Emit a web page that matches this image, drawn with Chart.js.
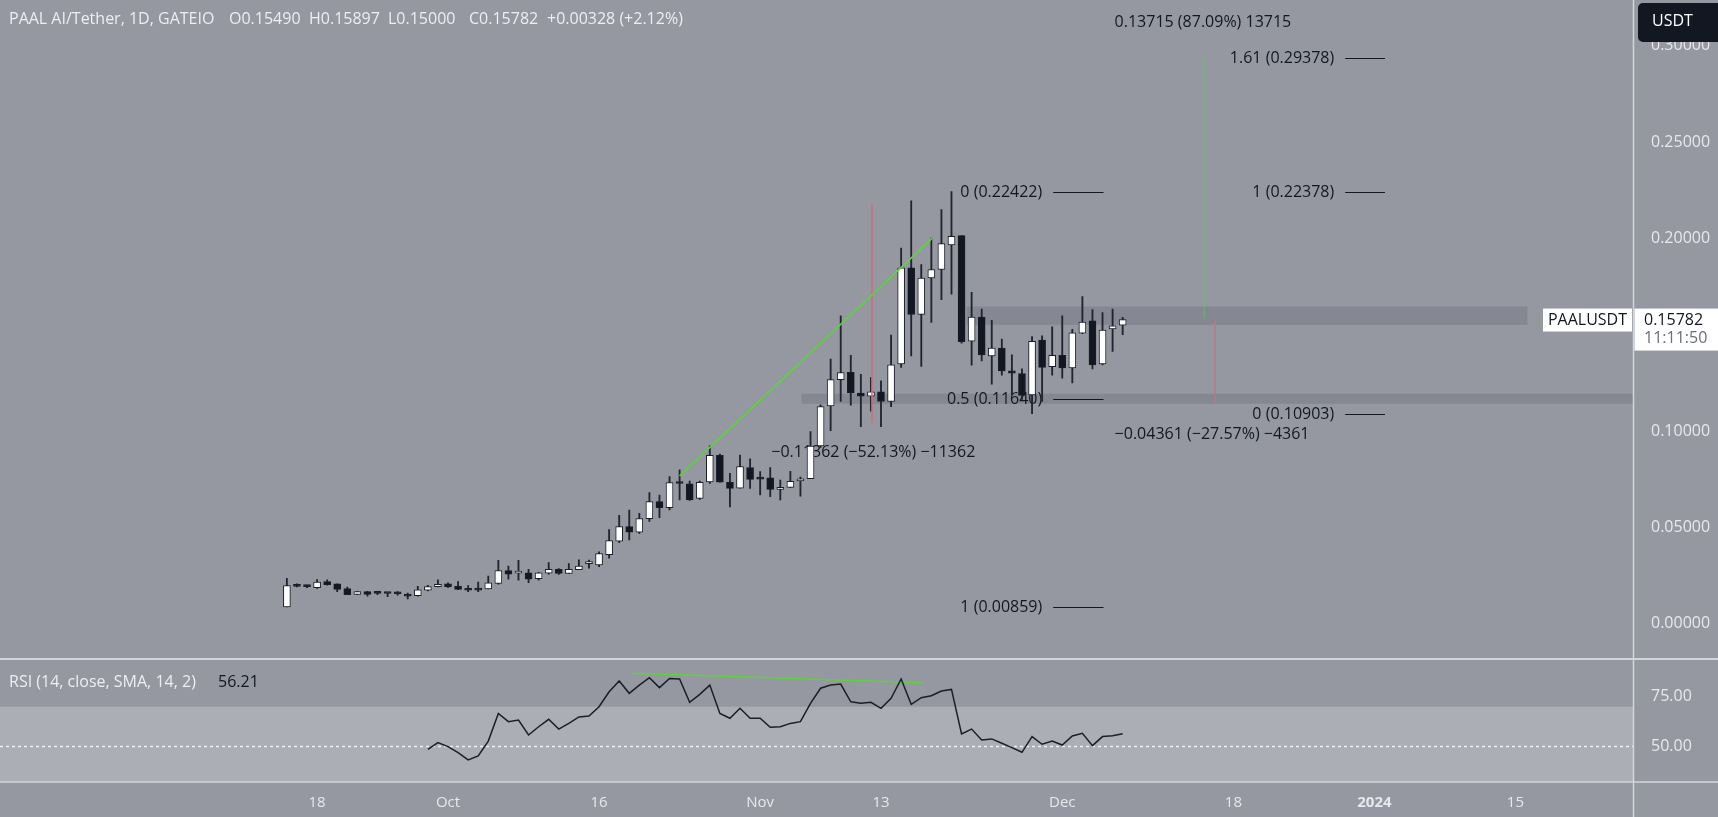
<!DOCTYPE html>
<html>
<head>
<meta charset="utf-8">
<title>PAAL AI/Tether, 1D</title>
<script src="https://cdn.jsdelivr.net/npm/chart.js@4.4.1/dist/chart.umd.min.js"></script>
<style>
  html, body { margin: 0; padding: 0; background: #9598a1; overflow: hidden; }
  canvas { display: block; }
</style>
</head>
<body>
<canvas id="grafico" width="1718" height="817"></canvas>
<script>
// Velas diarias PAAL/USDT (15 sep 2023 -> 7 dic 2023)
const firstCandle = '2023-09-15';
const opens = [
  0.0086, 0.0201, 0.0193, 0.0187, 0.0218, 0.0206, 0.0182, 0.0151, 0.0166, 0.0160, 0.0157, 0.0160, 0.0152, 0.0145, 0.0173, 0.0192,
  0.0206, 0.0194, 0.0180, 0.0180, 0.0180, 0.0209, 0.0275, 0.0262, 0.0264, 0.0233, 0.0262, 0.0282, 0.0260, 0.0280, 0.0311, 0.0305,
  0.0358, 0.0428, 0.0503, 0.0474, 0.0545, 0.0633, 0.0602, 0.0733, 0.0725, 0.0650, 0.0735, 0.0874, 0.0733, 0.0703, 0.0810,
  0.0755, 0.0756, 0.0697, 0.0707, 0.0740, 0.0752, 0.0922, 0.1130, 0.1266, 0.1304, 0.1197, 0.1180, 0.1203, 0.1153, 0.1348,
  0.1847, 0.1605, 0.1794, 0.1838, 0.1965, 0.2014, 0.1466, 0.1591, 0.1390, 0.1430, 0.1312, 0.1298, 0.1187, 0.1472, 0.1334,
  0.1393, 0.1327, 0.1508, 0.1572, 0.1348, 0.1530, 0.15490
];
const highs = [
  0.0235, 0.0206, 0.0200, 0.0229, 0.0227, 0.0206, 0.0190, 0.0168, 0.0168, 0.0163, 0.0160, 0.0166, 0.0159, 0.0193, 0.0199, 0.0227,
  0.0211, 0.0218, 0.0197, 0.0215, 0.0246, 0.0329, 0.0299, 0.0329, 0.0282, 0.0266, 0.0317, 0.0285, 0.0311, 0.0331, 0.0330, 0.0373,
  0.0488, 0.0562, 0.0589, 0.0573, 0.0680, 0.0667, 0.0763, 0.0798, 0.0740, 0.0740, 0.0923, 0.0880, 0.0780, 0.0875, 0.0855,
  0.0789, 0.0810, 0.0745, 0.0790, 0.0760, 0.0997, 0.1135, 0.1373, 0.1598, 0.1392, 0.1294, 0.1277, 0.1260, 0.1497, 0.1949,
  0.2195, 0.1863, 0.2001, 0.2149, 0.22422, 0.2014, 0.1719, 0.1633, 0.1574, 0.1477, 0.1395, 0.1322, 0.1490, 0.1494, 0.1540,
  0.1598, 0.1527, 0.1698, 0.1630, 0.1615, 0.1633, 0.15897
];
const lows = [
  0.00859, 0.0190, 0.0186, 0.0182, 0.0199, 0.0166, 0.0150, 0.0150, 0.0142, 0.0150, 0.0140, 0.0147, 0.0128, 0.0142, 0.0170, 0.0190,
  0.0188, 0.0176, 0.0166, 0.0166, 0.0180, 0.0204, 0.0230, 0.0225, 0.0213, 0.0225, 0.0257, 0.0255, 0.0260, 0.0280, 0.0288, 0.0295,
  0.0340, 0.0420, 0.0434, 0.0468, 0.0530, 0.0550, 0.0590, 0.0642, 0.0640, 0.0645, 0.0728, 0.0734, 0.0606, 0.0703, 0.0702,
  0.0668, 0.0659, 0.0642, 0.0707, 0.0662, 0.0752, 0.0915, 0.1002, 0.1153, 0.1134, 0.1022, 0.1103, 0.1022, 0.1126, 0.1330,
  0.1390, 0.1335, 0.1563, 0.1681, 0.1710, 0.1455, 0.1342, 0.1364, 0.1243, 0.1290, 0.1188, 0.1164, 0.10903, 0.1153, 0.1290,
  0.1274, 0.1249, 0.1505, 0.1322, 0.1343, 0.1413, 0.15000
];
const closes = [
  0.0197, 0.0193, 0.0192, 0.0216, 0.0202, 0.0178, 0.0150, 0.0166, 0.0151, 0.0157, 0.0156, 0.0155, 0.0142, 0.0175, 0.0192, 0.0204,
  0.0190, 0.0178, 0.0173, 0.0174, 0.0211, 0.0275, 0.0256, 0.0266, 0.0230, 0.0264, 0.0282, 0.0260, 0.0282, 0.0299, 0.0313, 0.0363,
  0.0431, 0.0503, 0.0474, 0.0545, 0.0633, 0.0602, 0.0732, 0.0727, 0.0642, 0.0733, 0.0874, 0.0734, 0.0702, 0.0815, 0.0749,
  0.0750, 0.0697, 0.0707, 0.0738, 0.0752, 0.0922, 0.1127, 0.1266, 0.1303, 0.1197, 0.1180, 0.1203, 0.1153, 0.1343, 0.1847,
  0.1605, 0.1794, 0.1838, 0.1972, 0.2010, 0.1463, 0.1591, 0.1395, 0.1430, 0.1312, 0.1300, 0.1184, 0.1465, 0.1330, 0.1393,
  0.1327, 0.1509, 0.1565, 0.1343, 0.1523, 0.15454, 0.15782
];

// RSI (14) desde el 29 sep
const rsiFirst = '2023-09-29';
const rsiValues = [
  48.3, 51.7,
  49.7, 46.6, 42.9, 45.0, 52.5, 66.6, 62.4, 63.2, 55.6, 59.8, 63.6, 58.6, 61.5, 64.8, 65.3, 70.0,
  77.6, 83.1, 76.8, 81.0, 84.8, 79.7, 84.4, 84.1, 72.2, 76.3, 81.0, 66.6, 64.1, 69.2, 64.1,
  64.1, 59.5, 59.8, 61.5, 62.4, 71.7, 79.4, 81.0, 81.5, 72.5, 71.7, 72.2, 69.2, 74.3, 84.1,
  71.2, 74.6, 75.6, 78.0, 78.8, 56.1, 58.6, 53.1, 53.6, 51.4, 49.2, 46.8, 54.8, 50.9, 52.5,
  50.5, 55.1, 56.5, 50.2, 54.8, 55.2, 56.21
];

// Ejes
const xTickDates = ['2023-09-18', '2023-10-01', '2023-10-16', '2023-11-01', '2023-11-13', '2023-12-01', '2023-12-18', '2024-01-01', '2024-01-15'];
const xTickLabels = ['18', 'Oct', '16', 'Nov', '13', 'Dec', '18', '2024', '15'];
const priceTicks = [0, 0.05, 0.10, 0.20, 0.25, 0.30];
const rsiTicks = [50, 75];

// Dibujos (días desde el 1 oct, precio)
const trendPriceDays = [23.0, 48.1];
const trendPriceValues = [0.0767, 0.2001];
const trendRsiDays = [18.3, 47.1];
const trendRsiValues = [87.0, 82.2];
const zoneStart = [51.5, 35.1];
const zoneEnd = [107.2, 117.7];
const zoneLow = [0.1551, 0.1141];
const zoneHigh = [0.1646, 0.1193];
const measureDays = [42.1, 76.2, 75.1];
const measureFrom = [0.2180, 0.1582, 0.1581];
const measureTo = [0.1043, 0.1146, 0.2953];
const fibLeftLabels = ['0', '0.5', '1'];
const fibLeftValues = [0.22422, 0.11640, 0.00859];
const fibRightLabels = ['1.61', '1', '0'];
const fibRightValues = [0.29378, 0.22378, 0.10903];
const rangeTexts = ['\u22120.11362 (\u221252.13%) \u221211362', '\u22120.04361 (\u221227.57%) \u22124361', '0.13715 (87.09%) 13715'];
const rangeDays = [32.1, 66.2, 66.2];
const rangeValues = [0.0889, 0.0980, 0.3118];

const dia = s => (Date.parse(s + 'T00:00:00Z') - Date.UTC(2023, 9, 1)) / 86400000;
const d0 = dia(firstCandle);
const r0 = dia(rsiFirst);

const cuerpos = opens.map((o, i) => ({ x: d0 + i, y: [o, closes[i]] }));
const mechas = lows.map((l, i) => ({ x: d0 + i, y: [l, highs[i]] }));
const coloresCuerpo = opens.map((o, i) => closes[i] >= o ? '#ffffff' : '#131722');
const rsiPuntos = rsiValues.map((v, i) => ({ x: r0 + i, y: v }));

const FONT = '"Open Sans", sans-serif';
Chart.defaults.font.family = FONT;

const BG = '#9598a1';
const TEXT_LIGHT = '#eceef2';
const TEXT_DARK = '#131722';

// sin relleno extra de Chart.js alrededor de las escalas
const sinRelleno = (s) => { s.paddingTop = 0; s.paddingBottom = 0; s.paddingLeft = 0; s.paddingRight = 0; };

const panel = {
  id: 'panel',
  beforeDraw(chart) {
    const { ctx, width, height } = chart;
    const { x, yr } = chart.scales;
    ctx.save();
    ctx.fillStyle = BG;
    ctx.fillRect(0, 0, width, height);
    // banda 70-30 del RSI
    const top = yr.getPixelForValue(70);
    ctx.fillStyle = '#acaeb6';
    ctx.fillRect(x.left, top, x.right - x.left, yr.bottom - top);
    ctx.restore();
  },
  beforeDatasetsDraw(chart) {
    const { ctx } = chart;
    const { x, y, yr } = chart.scales;
    ctx.save();
    // zonas grises
    ctx.fillStyle = '#858892';
    zoneStart.forEach((s, i) => {
      const x1 = x.getPixelForValue(s), x2 = x.getPixelForValue(zoneEnd[i]);
      const y1 = y.getPixelForValue(zoneHigh[i]), y2 = y.getPixelForValue(zoneLow[i]);
      ctx.fillRect(x1, y1, x2 - x1, y2 - y1);
    });
    // linea 50 del RSI
    ctx.strokeStyle = '#eef0f4';
    ctx.lineWidth = 1.5;
    ctx.setLineDash([3, 3]);
    const y50 = Math.round(yr.getPixelForValue(50)) + 0.5;
    ctx.beginPath();
    ctx.moveTo(x.left, y50);
    ctx.lineTo(x.right, y50);
    ctx.stroke();
    ctx.setLineDash([]);

    // niveles fibonacci
    ctx.font = '16px ' + FONT;
    ctx.fillStyle = TEXT_DARK;
    ctx.strokeStyle = TEXT_DARK;
    ctx.lineWidth = 1;
    ctx.textBaseline = 'middle';
    ctx.textAlign = 'right';
    const fib = (labels, values, dFrom, dTo) => {
      const a = x.getPixelForValue(dFrom), b = x.getPixelForValue(dTo);
      labels.forEach((l, i) => {
        const py = Math.round(y.getPixelForValue(values[i])) + 0.5;
        ctx.fillText(l + ' (' + values[i].toFixed(5) + ')', a - 11, py);
        ctx.beginPath();
        ctx.moveTo(a, py);
        ctx.lineTo(b, py);
        ctx.stroke();
      });
    };
    fib(fibLeftLabels, fibLeftValues, 60.1, 65.1);
    fib(fibRightLabels, fibRightValues, 89.1, 93.05);

    // etiquetas de rango de precio
    ctx.textAlign = 'left';
    rangeTexts.forEach((t, i) => {
      ctx.fillText(t, x.getPixelForValue(rangeDays[i]), y.getPixelForValue(rangeValues[i]));
    });
    ctx.restore();
  },
  afterDraw(chart) {
    const { ctx, width, height } = chart;
    const { x, y, yr } = chart.scales;
    ctx.save();
    // separadores
    ctx.strokeStyle = '#d3d5dc';
    ctx.lineWidth = 2;
    ctx.beginPath();
    ctx.moveTo(0, Math.round(y.bottom));
    ctx.lineTo(width, Math.round(y.bottom));
    ctx.stroke();
    ctx.lineWidth = 1.5;
    ctx.beginPath();
    ctx.moveTo(0, Math.round(yr.bottom));
    ctx.lineTo(width, Math.round(yr.bottom));
    ctx.moveTo(Math.round(x.right) + 0.5, 0);
    ctx.lineTo(Math.round(x.right) + 0.5, height);
    ctx.stroke();

    // leyenda superior
    const n = closes.length - 1;
    const cambio = closes[n] - closes[n - 1];
    ctx.font = '16px ' + FONT;
    ctx.textBaseline = 'middle';
    ctx.textAlign = 'left';
    ctx.fillStyle = TEXT_LIGHT;
    const piezas = [
      ['PAAL AI/Tether, 1D, GATEIO', 9],
      ['O' + opens[n].toFixed(5), 229],
      ['H' + highs[n].toFixed(5), 309],
      ['L' + lows[n].toFixed(5), 388],
      ['C' + closes[n].toFixed(5), 469],
      ['+' + cambio.toFixed(5) + ' (+' + (cambio / closes[n - 1] * 100).toFixed(2) + '%)', 547]
    ];
    piezas.forEach(p => ctx.fillText(p[0], p[1], 19));

    // leyenda RSI
    const rsiTop = yr.top;
    ctx.fillText('RSI (14, close, SMA, 14, 2)', 9, rsiTop + 24);
    ctx.fillStyle = TEXT_DARK;
    ctx.fillText(rsiValues[rsiValues.length - 1].toFixed(2), 218, rsiTop + 24);

    // USDT
    ctx.fillStyle = '#131722';
    ctx.beginPath();
    ctx.roundRect(x.right + 5, 3, 100, 39, 5);
    ctx.fill();
    ctx.fillStyle = '#ffffff';
    ctx.fillText('USDT', x.right + 19, 21);

    // precio actual
    const py = y.getPixelForValue(closes[n]);
    ctx.fillStyle = '#ffffff';
    ctx.fillRect(x.right + 1.5, py - 11, width - x.right, 42);
    ctx.fillRect(x.right - 90, py - 11, 89, 23);
    ctx.fillStyle = TEXT_DARK;
    ctx.fillText(closes[n].toFixed(5), x.right + 11, py + 1);
    ctx.fillStyle = '#6b6e78';
    ctx.fillText('11:11:50', x.right + 11, py + 19);
    ctx.fillStyle = TEXT_DARK;
    ctx.textAlign = 'center';
    ctx.fillText('PAALUSDT', x.right - 45.5, py + 1);
    ctx.restore();
  }
};

const linea = (days, values, axis, color, width) => ({
  type: 'line',
  yAxisID: axis,
  data: days.map((d, i) => ({ x: d, y: values[i] })),
  borderColor: color,
  borderWidth: width,
  pointRadius: 0,
  tension: 0,
  order: -1
});

new Chart(document.getElementById('grafico'), {
  type: 'bar',
  data: {
    datasets: [
      {
        label: 'Cuerpos',
        yAxisID: 'y',
        data: cuerpos,
        backgroundColor: coloresCuerpo,
        borderColor: '#1b1e28',
        borderWidth: 1,
        borderSkipped: false,
        barThickness: 7,
        minBarLength: 2,
        grouped: false,
        order: 0
      },
      {
        label: 'Mechas',
        yAxisID: 'y',
        data: mechas,
        backgroundColor: '#22252f',
        borderWidth: 0,
        barThickness: 1.2,
        grouped: false,
        order: 1
      },
      {
        type: 'line',
        label: 'RSI',
        yAxisID: 'yr',
        data: rsiPuntos,
        borderColor: '#1b1e28',
        borderWidth: 1.5,
        pointRadius: 0,
        tension: 0,
        order: -1
      },
      linea(trendPriceDays, trendPriceValues, 'y', '#5ad43a', 1.6),
      linea(trendRsiDays, trendRsiValues, 'yr', '#5ad43a', 1.6),
      linea([measureDays[0], measureDays[0]], [measureFrom[0], measureTo[0]], 'y', 'rgba(214,110,120,0.75)', 1),
      linea([measureDays[1], measureDays[1]], [measureFrom[1], measureTo[1]], 'y', 'rgba(214,110,120,0.75)', 1),
      linea([measureDays[2], measureDays[2]], [measureFrom[2], measureTo[2]], 'y', 'rgba(110,190,110,0.8)', 1)
    ]
  },
  options: {
    responsive: false,
    animation: false,
    layout: { padding: 0 },
    plugins: { legend: { display: false }, tooltip: { enabled: false } },
    scales: {
      x: {
        type: 'linear',
        position: 'bottom',
        min: -44.49,
        max: 117.68,
        offset: false,
        grid: { display: false, offset: false },
        border: { display: false },
        afterFit: s => { sinRelleno(s); s.height = 35; },
        afterBuildTicks: s => { s.ticks = xTickDates.map(t => ({ value: dia(t) })); },
        ticks: {
          autoSkip: false,
          maxRotation: 0,
          padding: 4,
          color: '#e6e8ec',
          font: c => ({ size: 15, weight: xTickLabels[c.index] === '2024' ? 'bold' : 'normal' }),
          callback: (v, i) => xTickLabels[i]
        }
      },
      y: {
        type: 'linear',
        position: 'right',
        stack: 'paneles',
        stackWeight: 658.5,
        min: -0.01812,
        max: 0.3237,
        grid: { display: false },
        border: { display: false },
        afterFit: s => { sinRelleno(s); s.width = 85; },
        afterBuildTicks: s => { s.ticks = priceTicks.map(v => ({ value: v })); },
        ticks: { padding: 10, color: '#e6e8ec', font: { size: 16 }, callback: v => v.toFixed(5) }
      },
      yr: {
        type: 'linear',
        position: 'right',
        stack: 'paneles',
        stackWeight: 123.5,
        min: 31.68,
        max: 94.53,
        grid: { display: false },
        border: { display: false },
        afterFit: s => { sinRelleno(s); s.width = 85; },
        afterBuildTicks: s => { s.ticks = rsiTicks.map(v => ({ value: v })); },
        ticks: { padding: 10, color: '#e6e8ec', font: { size: 16 }, callback: v => v.toFixed(2) }
      }
    }
  },
  plugins: [panel]
});
</script>
</body>
</html>
